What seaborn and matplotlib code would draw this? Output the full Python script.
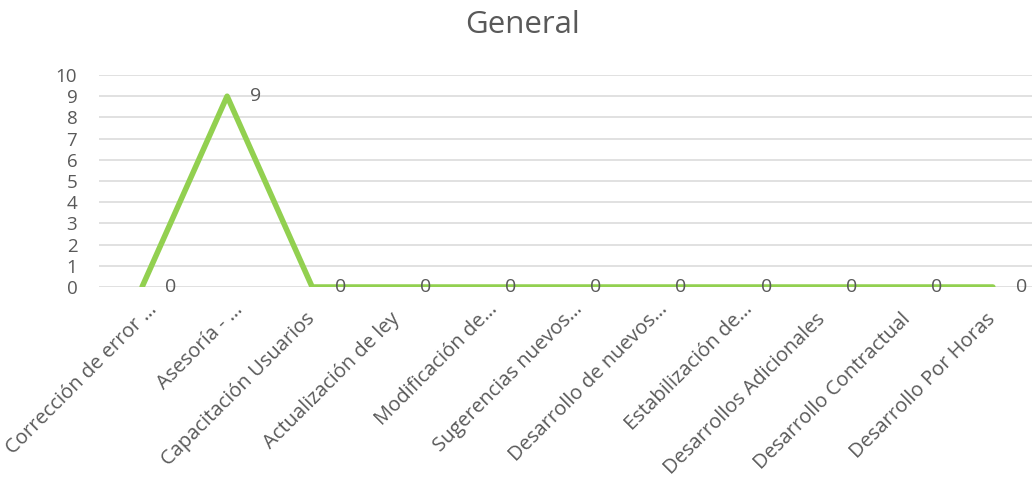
import matplotlib
matplotlib.use("Agg")
import matplotlib.pyplot as plt
import matplotlib.transforms as mtransforms
import seaborn as sns
import pandas as pd

categories = [
    "Corrección de error …",
    "Asesoría - …",
    "Capacitación Usuarios",
    "Actualización de ley",
    "Modificación de…",
    "Sugerencias nuevos…",
    "Desarrollo de nuevos…",
    "Estabilización de…",
    "Desarrollos Adicionales",
    "Desarrollo Contractual",
    "Desarrollo Por Horas",
]
values = [0, 9, 0, 0, 0, 0, 0, 0, 0, 0, 0]

LINE_COLOR = "#92D050"
TEXT_COLOR = "#595959"
GRID_COLOR = "#D9D9D9"

sns.set_style("white")
plt.rcParams["font.family"] = ["Open Sans", "DejaVu Sans"]

df = pd.DataFrame({"idx": range(len(categories)), "value": values})

fig = plt.figure(figsize=(10.32, 4.79), dpi=100)
ax = fig.add_axes([0.0964, 0.4008, 0.9036, 0.4426])

# grid first so the line sits on top
for y in range(0, 11):
    ax.axhline(y, color=GRID_COLOR, lw=1.1, zorder=0)

sns.lineplot(data=df, x="idx", y="value", color=LINE_COLOR, lw=4.0,
             ax=ax, zorder=3)

# data labels, to the right of each point
for i, v in enumerate(values):
    ax.annotate(str(v), (i, v), xytext=(16.5, 0), textcoords="offset points",
                ha="left", va="center", fontsize=14, color=TEXT_COLOR)

ax.set_xlim(-0.5, 10.46)
ax.set_ylim(0, 10)
ax.set_yticks(range(0, 11))
ax.set_xticks(range(len(categories)))
ax.set_xticklabels(categories, rotation=45, ha="right", va="center",
                   rotation_mode="anchor", fontsize=14.5, color=TEXT_COLOR)
ax.tick_params(axis="y", labelsize=13.5, labelcolor=TEXT_COLOR, length=0, pad=16)
ax.tick_params(axis="x", length=0, pad=21)
ax.set_xlabel("")
ax.set_ylabel("")
for s in ax.spines.values():
    s.set_visible(False)

# truncated labels sit a bit further along their own direction
shift = mtransforms.ScaledTranslation(9 / 72, 7 / 72, fig.dpi_scale_trans)
for lbl in ax.get_xticklabels():
    if lbl.get_text().endswith("…"):
        lbl.set_transform(lbl.get_transform() + shift)

fig.text(0.506, 1 - 33 / 479, "General", ha="center", va="baseline",
         fontsize=22.5, color=TEXT_COLOR)

fig.savefig("out.png", dpi=100)
